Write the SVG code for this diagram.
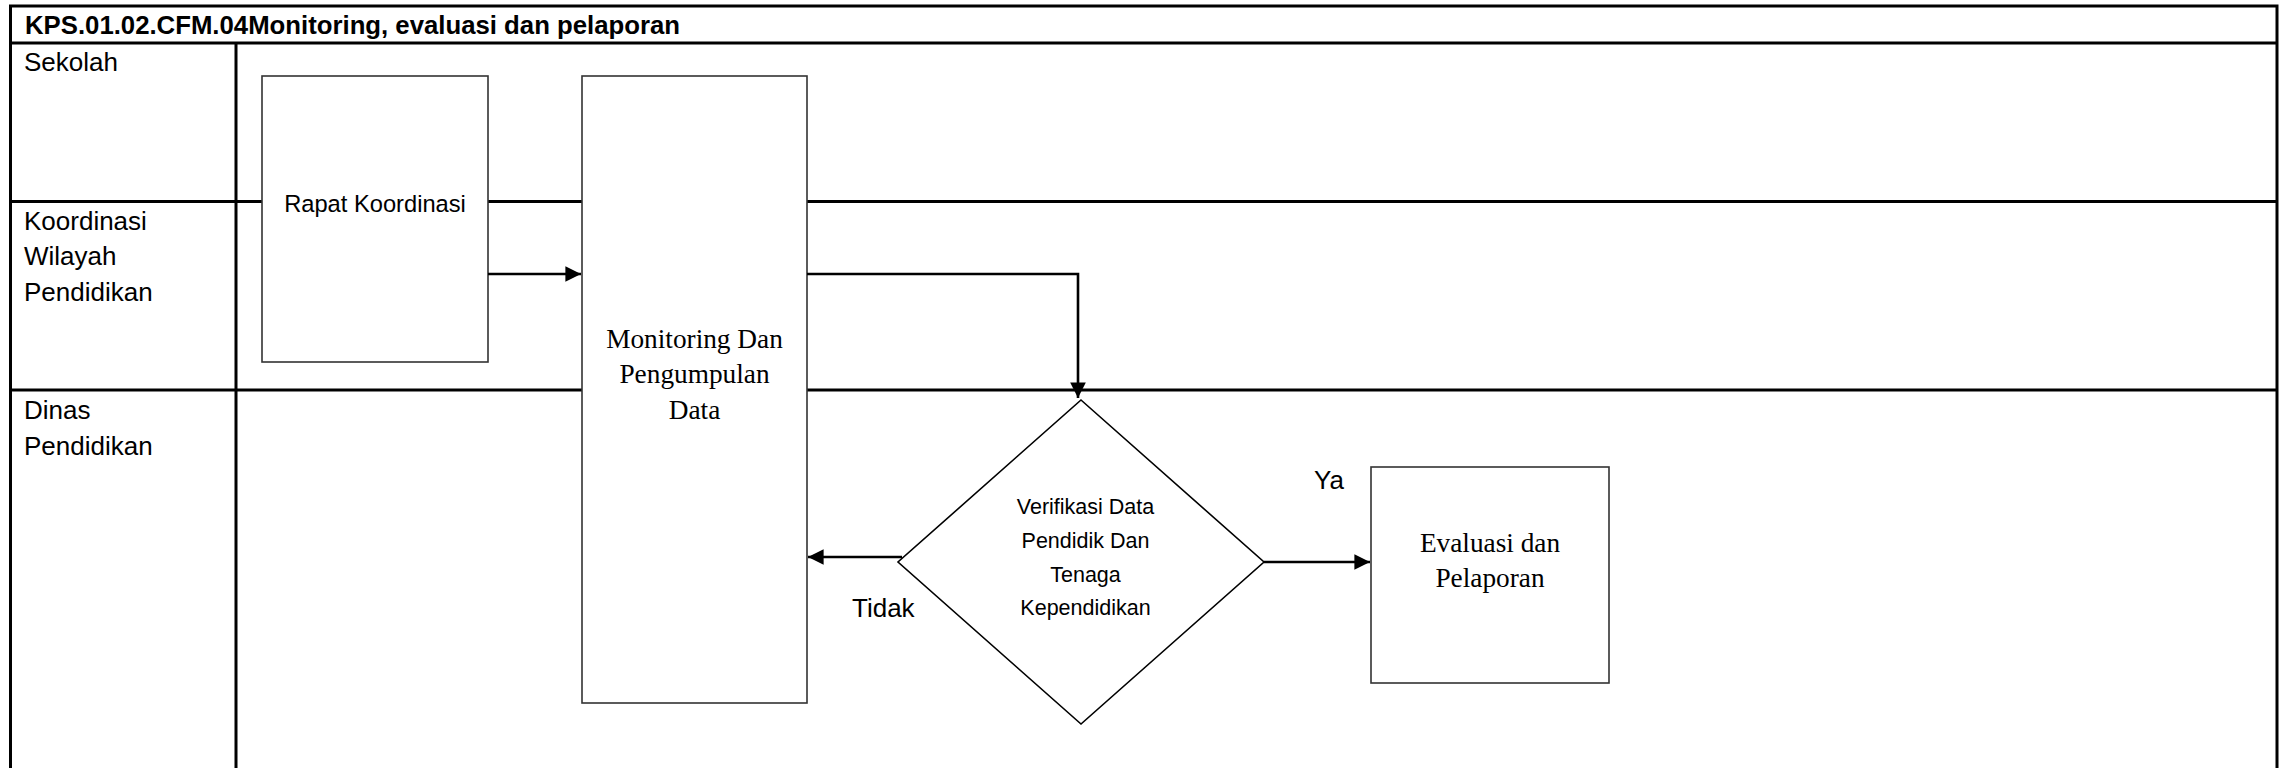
<svg xmlns="http://www.w3.org/2000/svg" width="2289" height="768" viewBox="0 0 2289 768">
<style>
.lane{stroke:#000;stroke-width:3;fill:none}
.box{fill:#fff;stroke:#333;stroke-width:1.6}
.dia{fill:#fff;stroke:#000;stroke-width:1.6}
.conn{stroke:#000;stroke-width:2.6;fill:none}
.lbl{font-family:"Liberation Sans",Arial,sans-serif;font-size:26px;fill:#000}
.sans{font-family:"Liberation Sans",Arial,sans-serif;fill:#000;text-anchor:middle}
.serif{font-family:"Liberation Serif","Times New Roman",serif;font-size:27.3px;fill:#000;text-anchor:middle}
</style>
<defs>
<marker id="ah" viewBox="0 0 10 10" refX="10" refY="5" markerWidth="6" markerHeight="6" markerUnits="strokeWidth" orient="auto">
<path d="M0,0 L10,5 L0,10 z" fill="#000"/>
</marker>
</defs>
<rect width="2289" height="768" fill="#fff"/>
<g id="pool">
<path class="lane" d="M10.5,780 V6 H2277 V780"/>
<line class="lane" x1="10.5" y1="43" x2="2277" y2="43"/>
<line class="lane" x1="10.5" y1="201.5" x2="2277" y2="201.5"/>
<line class="lane" x1="10.5" y1="390" x2="2277" y2="390"/>
<line class="lane" x1="236" y1="43" x2="236" y2="780"/>
<text x="25" y="34" class="lbl" font-weight="bold" textLength="655" lengthAdjust="spacingAndGlyphs">KPS.01.02.CFM.04Monitoring, evaluasi dan pelaporan</text>
<text x="24" y="71" class="lbl">Sekolah</text>
<text x="24" y="230" class="lbl">Koordinasi</text>
<text x="24" y="265" class="lbl">Wilayah</text>
<text x="24" y="301" class="lbl">Pendidikan</text>
<text x="24" y="419" class="lbl">Dinas</text>
<text x="24" y="455" class="lbl">Pendidikan</text>
</g>
<g id="rapat">
<rect class="box" x="262" y="76" width="226" height="286"/>
<text class="sans" x="375" y="212" font-size="23.7">Rapat Koordinasi</text>
</g>
<g id="monitoring">
<rect class="box" x="582" y="76" width="225" height="627"/>
<text class="serif" x="694.5" y="348">Monitoring Dan</text>
<text class="serif" x="694.5" y="383">Pengumpulan</text>
<text class="serif" x="694.5" y="419">Data</text>
</g>
<g id="verifikasi">
<polygon class="dia" points="1081,400 1264,562 1081,724 898,562"/>
<text class="sans" x="1085.5" y="514" font-size="21.5">Verifikasi Data</text>
<text class="sans" x="1085.5" y="548" font-size="21.5">Pendidik Dan</text>
<text class="sans" x="1085.5" y="582" font-size="21.5">Tenaga</text>
<text class="sans" x="1085.5" y="615" font-size="21.5">Kependidikan</text>
</g>
<g id="evaluasi">
<rect class="box" x="1371" y="467" width="238" height="216"/>
<text class="serif" x="1490" y="552" font-size="28">Evaluasi dan</text>
<text class="serif" x="1490" y="587" font-size="28">Pelaporan</text>
</g>
<g id="connectors">
<line class="conn" x1="488" y1="274" x2="581" y2="274" marker-end="url(#ah)"/>
<path class="conn" d="M807,274 H1078 V398" marker-end="url(#ah)"/>
<line class="conn" x1="902" y1="557" x2="808" y2="557" marker-end="url(#ah)"/>
<line class="conn" x1="1264" y1="562" x2="1370" y2="562" marker-end="url(#ah)"/>
<text x="852" y="617" class="lbl">Tidak</text>
<text x="1314" y="489" class="lbl">Ya</text>
</g>
</svg>
